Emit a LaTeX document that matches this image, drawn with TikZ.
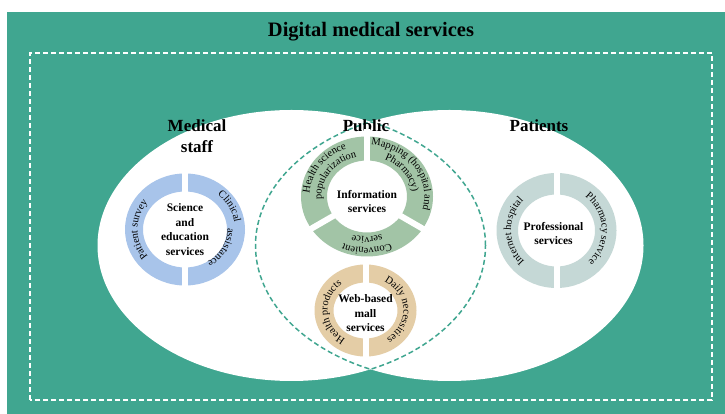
\documentclass[tikz,border=0pt]{standalone}
\usepackage{fontspec}
\setmainfont{Liberation Serif}
\usetikzlibrary{decorations.text}

\definecolor{bgteal}{RGB}{64,166,144}
\definecolor{ringblue}{RGB}{168,196,234}
\definecolor{ringgreen}{RGB}{162,196,166}
\definecolor{ringtan}{RGB}{228,205,166}
\definecolor{ringgray}{RGB}{197,216,214}

\newcommand\ringfont{\fontsize{10.5}{12}\selectfont}

\tikzset{
  region/.style={font=\fontsize{17}{21}\selectfont\bfseries, align=center},
  hub/.style={font=\fontsize{11.5}{14.5}\selectfont\bfseries, align=center},
  lens/.style={bgteal, line width=1.5pt, dash pattern=on 5pt off 3pt},
  ringtext/.style={decorate, decoration={text along path, text align=center, text={|\ringfont|#1}}}
}

\begin{document}
\begin{tikzpicture}[x=1pt,y=1pt]
\useasboundingbox (0,0) rectangle (725,414);
% background
\fill[bgteal] (7,0) rectangle (725,402);
\draw[white, line width=1.5pt, dash pattern=on 5pt off 3pt] (30,14) rectangle (712,361);
\node[font=\fontsize{20.5}{24}\selectfont\bfseries] (title) at (371,382) {Digital medical services};

% two groups
\coordinate (L) at (291.5,168.5);
\coordinate (R) at (449.5,168.5);
\fill[white] (L) ellipse[x radius=194pt, y radius=135.5pt];
\fill[white] (R) ellipse[x radius=194pt, y radius=135.5pt];
\begin{scope}
  \clip (L) ellipse[x radius=194pt, y radius=135.5pt];
  \draw[lens] (R) ellipse[x radius=194pt, y radius=135.5pt];
\end{scope}
\begin{scope}
  \clip (R) ellipse[x radius=194pt, y radius=135.5pt];
  \draw[lens] (L) ellipse[x radius=194pt, y radius=135.5pt];
\end{scope}

\node[region] (staff) at (197,278) {Medical\\staff};
\node[region] (public) at (366,288) {Public};
\node[region] (patients) at (539,288) {Patients};

% rings
\coordinate (sci) at (185,184.5);
\coordinate (info) at (367,217.5);
\coordinate (mall) at (365.5,103.5);
\coordinate (prof) at (556.5,183.5);
\foreach \c/\col/\ox/\oy/\ix/\iy in {sci/ringblue/60/56/42/38, info/ringgreen/66/60/40/36,
    mall/ringtan/51/46/32/28, prof/ringgray/60/57.5/38.5/36} {
  \fill[\col, even odd rule] (\c) ellipse[x radius=\ox pt, y radius=\oy pt]
    (\c) ellipse[x radius=\ix pt, y radius=\iy pt];
}
% gaps between segments
\foreach \c/\a/\r in {sci/90/60, sci/270/60, info/90/67, info/210/69, info/330/69,
    mall/90/50, mall/270/49, prof/90/61, prof/270/61} {
  \draw[white, line width=6pt] (\c) -- ++(\a:\r pt);
}

\node[hub] (scihub) at (sci) {Science\\and\\education\\services};
\node[hub] (infohub) at ([yshift=-5pt]info) {Information\\services};
\node[hub] (mallhub) at ([yshift=-3pt]mall) {Web-based\\mall\\services};
\node[hub] (profhub) at ([xshift=-3pt,yshift=-3pt]prof) {Professional\\services};

% texts on the segments
\path[ringtext={Patient survey}] (sci) ++(250:47.5pt and 43.5pt) arc[start angle=250, end angle=110, x radius=47.5pt, y radius=43.5pt];
\path[ringtext={Clinical}] (sci) ++(80:50pt and 46pt) arc[start angle=80, end angle=-24, x radius=50pt, y radius=46pt];
\path[ringtext={assistance}] (sci) ++(40:42.5pt and 38.5pt) arc[start angle=40, end angle=-94, x radius=42.5pt, y radius=38.5pt];

\path[ringtext={Health science}] (info) ++(205:57.5pt and 51.5pt) arc[start angle=205, end angle=85, x radius=57.5pt, y radius=51.5pt];
\path[ringtext={popularization}] (info) ++(205:45.5pt and 40.5pt) arc[start angle=205, end angle=85, x radius=45.5pt, y radius=40.5pt];
\path[ringtext={Mapping (hospital and}] (info) ++(95:57.5pt and 51.5pt) arc[start angle=95, end angle=-25, x radius=57.5pt, y radius=51.5pt];
\path[ringtext={Pharmacy)}] (info) ++(95:45.5pt and 40.5pt) arc[start angle=95, end angle=-25, x radius=45.5pt, y radius=40.5pt];
\path[ringtext={Convenient}] (info) ++(330:57.5pt and 51.5pt) arc[start angle=330, end angle=210, x radius=57.5pt, y radius=51.5pt];
\path[ringtext={service}] (info) ++(330:45.5pt and 40.5pt) arc[start angle=330, end angle=210, x radius=45.5pt, y radius=40.5pt];

\path[ringtext={Health products}] (mall) ++(263:38pt and 33.5pt) arc[start angle=263, end angle=103, x radius=38pt, y radius=33.5pt];
\path[ringtext={Daily necessities}] (mall) ++(85:38pt and 33.5pt) arc[start angle=85, end angle=-81, x radius=38pt, y radius=33.5pt];

\path[ringtext={Internet hospital}] (prof) ++(261:45.5pt and 43.5pt) arc[start angle=261, end angle=101, x radius=45.5pt, y radius=43.5pt];
\path[ringtext={Pharmacy service}] (prof) ++(84:45.5pt and 43.5pt) arc[start angle=84, end angle=-79, x radius=45.5pt, y radius=43.5pt];
\end{tikzpicture}
\end{document}
